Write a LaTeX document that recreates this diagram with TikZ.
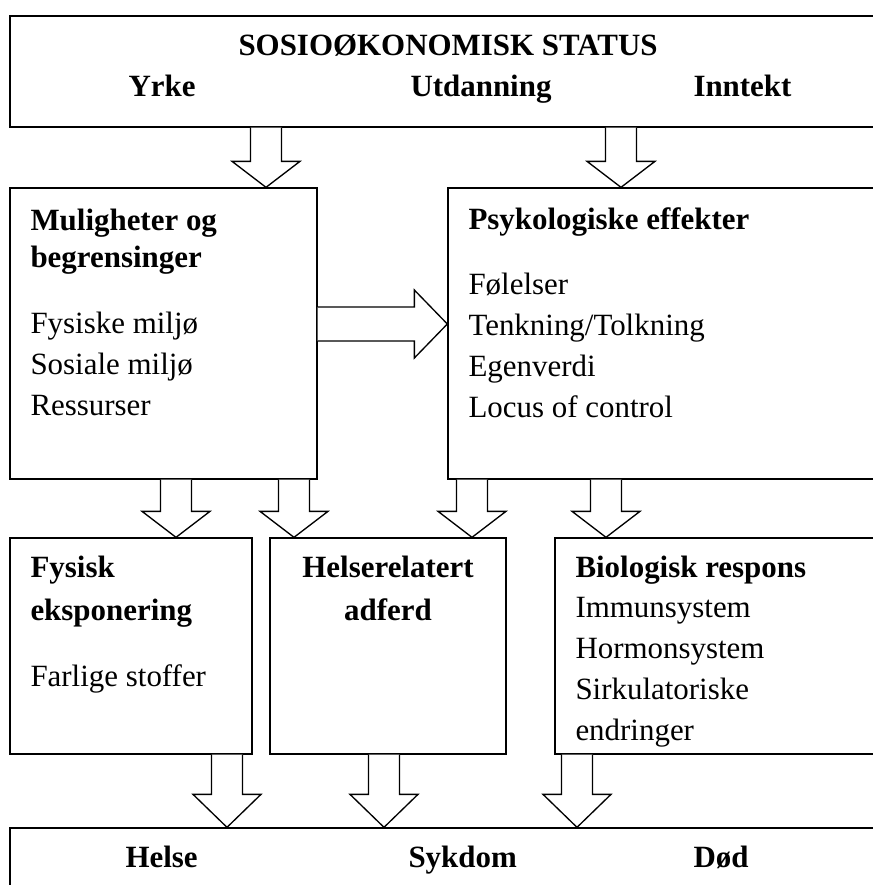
\documentclass[tikz,border=0pt]{standalone}
\usepackage{fontspec}
\setmainfont{Liberation Serif}
\usetikzlibrary{calc,fit}

\newcommand{\diafont}[1]{\fontsize{23.2}{#1}\selectfont}
% hollow block arrow pointing down: #1 tail point, #2 tip point, #3 head length
\newcommand{\blockdown}[3]{%
  \draw[blockarrow] ($(#1)+(-15.5,0)$) -- ($(#2)+(-15.5,-#3)$) -- ($(#2)+(-34,-#3)$) -- (#2)
    -- ($(#2)+(34,-#3)$) -- ($(#2)+(15.5,-#3)$) -- ($(#1)+(15.5,0)$);}

\tikzset{every picture/.style={line width=0.75pt}}
\tikzset{
  box/.style={draw, line width=1pt, inner sep=0pt},
  blockarrow/.style={draw, fill=white, line width=1pt, line join=miter},
  head/.style={font=\diafont{30.75pt}\bfseries, inner sep=0pt, align=left},
  item/.style={font=\diafont{30.75pt}, inner sep=0pt, align=left},
}

\begin{document}
\begin{tikzpicture}[x=0.75pt,y=0.75pt,yscale=-1,xscale=1]
\useasboundingbox (0,0) rectangle (873,885);
\clip (0,0) rectangle (873,885);

%Boxes
\node[box, fit={(10,16) (900,127)}] (ses) {};
\node[box, fit={(10,188) (317,479)}] (mul) {};
\node[box, fit={(448,188) (900,479)}] (psy) {};
\node[box, fit={(10,538) (252,754)}] (fys) {};
\node[box, fit={(270,538) (506,754)}] (hel) {};
\node[box, fit={(555,538) (900,754)}] (bio) {};
\node[box, fit={(10,828) (900,920)}] (out) {};

%Arrow positions
\coordinate (c1) at (266,0);
\coordinate (c2) at (621,0);
\coordinate (c3) at (176,0);
\coordinate (c4) at (294,0);
\coordinate (c5) at (472,0);
\coordinate (c6) at (606,0);
\coordinate (c7) at (227,0);
\coordinate (c8) at (384,0);
\coordinate (c9) at (577,0);

%Block arrows
\blockdown{c1 |- ses.south}{c1 |- mul.north}{26}
\blockdown{c2 |- ses.south}{c2 |- psy.north}{26}
\blockdown{c3 |- mul.south}{c3 |- fys.north}{26}
\blockdown{c4 |- mul.south}{c4 |- hel.north}{26}
\blockdown{c5 |- psy.south}{c5 |- hel.north}{26}
\blockdown{c6 |- psy.south}{c6 |- bio.north}{26}
\blockdown{c7 |- fys.south}{c7 |- out.north}{33}
\blockdown{c8 |- hel.south}{c8 |- out.north}{33}
\blockdown{c9 |- bio.south}{c9 |- out.north}{33}
%Horizontal block arrow
\coordinate (r1) at (0,324);
\draw[blockarrow] ($(r1 -| mul.east)+(0,-17)$) -- ($(r1 -| psy.west)+(-33,-17)$) -- ($(r1 -| psy.west)+(-33,-34)$)
  -- (r1 -| psy.west) -- ($(r1 -| psy.west)+(-33,34)$) -- ($(r1 -| psy.west)+(-33,17)$) -- ($(r1 -| mul.east)+(0,17)$);

% Text Nodes (base = last line)
\node[head, anchor=base west] (title) at (238,55) {SOSIOØKONOMISK STATUS};
\node[head, anchor=base west] (yrke) at (128,96) {Yrke};
\node[head, anchor=base west] (utd) at (410,96) {Utdanning};
\node[head, anchor=base west] (inn) at (693,96) {Inntekt};

\node[head, font=\diafont{27.75pt}\bfseries, anchor=base west] (mulhead) at (30,267) {Muligheter og\\begrensinger};
\node[item, anchor=base west] (mulitems) at (30,415) {Fysiske miljø\\Sosiale miljø\\Ressurser};

\node[head, anchor=base west] (psyhead) at (468,229) {Psykologiske effekter};
\node[item, anchor=base west] (psyitems) at (468,417) {Følelser\\Tenkning/Tolkning\\Egenverdi\\Locus of control};

\node[head, font=\diafont{32.25pt}\bfseries, anchor=base west] (fyshead) at (30,620) {Fysisk\\eksponering};
\node[item, anchor=base west] (fysitems) at (30,686) {Farlige stoffer};

\node[head, font=\diafont{32.25pt}\bfseries, align=center, anchor=base] (helhead) at (388,620) {Helserelatert\\adferd};

\node[head, anchor=base west] (biohead) at (575,577) {Biologisk respons};
\node[item, anchor=base west] (bioitems) at (575,740) {Immunsystem\\Hormonsystem\\Sirkulatoriske\\endringer};

\node[head, anchor=base west] (helse) at (125,867) {Helse};
\node[head, anchor=base west] (sykdom) at (408,867) {Sykdom};
\node[head, anchor=base west] (dod) at (693,867) {Død};

\end{tikzpicture}
\end{document}
